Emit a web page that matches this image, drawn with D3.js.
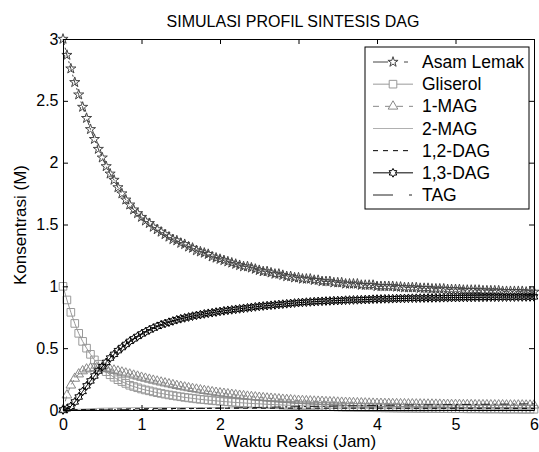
<!DOCTYPE html>
<html>
<head>
<meta charset="utf-8">
<script src="https://cdn.jsdelivr.net/npm/d3@7"></script>
<style>
  body { margin: 0; background: #fff; }
  text { font-family: Arial, "Liberation Sans", sans-serif; }
</style>
</head>
<body>
<svg id="chart"></svg>
<script>
var width = 539;
var height = 452;

// grid waktu simulasi (jam), langkah 0.05
var langkah = 0.05;
var waktu = d3.range(121).map(function(i) { return i * langkah; });

// nilai, tiap 0.05 jam
var asamLemak = [3.00,2.87,2.76,2.65,2.55,2.45,2.36,2.27,2.19,2.11,
  2.04,1.97,1.91,1.86,1.80,1.75,1.70,1.66,1.62,1.59,
  1.56,1.53,1.51,1.48,1.46,1.44,1.42,1.40,1.38,1.37,
  1.35,1.34,1.32,1.31,1.29,1.28,1.27,1.26,1.24,1.23,
  1.22,1.21,1.20,1.19,1.18,1.17,1.16,1.16,1.15,1.14,
  1.13,1.12,1.12,1.11,1.10,1.10,1.09,1.08,1.08,1.07,
  1.07,1.06,1.06,1.06,1.05,1.05,1.04,1.04,1.04,1.03,
  1.03,1.03,1.02,1.02,1.02,1.02,1.01,1.01,1.01,1.01,
  1.00,1.00,1.00,1.00,1.00,0.995,0.995,0.99,0.99,0.99,
  0.99,0.985,0.985,0.985,0.98,0.98,0.98,0.98,0.975,0.975,
  0.975,0.975,0.97,0.97,0.97,0.97,0.97,0.965,0.965,0.965,
  0.965,0.965,0.96,0.96,0.96,0.96,0.96,0.96,0.955,0.955,
  0.955];

var gliserol = [1.00,0.89,0.79,0.70,0.62,0.555,0.50,0.45,0.405,0.37,
  0.34,0.31,0.285,0.265,0.245,0.23,0.215,0.20,0.19,0.18,
  0.17,0.162,0.155,0.147,0.14,0.134,0.128,0.122,0.117,0.112,
  0.107,0.102,0.098,0.094,0.09,0.086,0.083,0.080,0.077,0.074,
  0.071,0.068,0.066,0.063,0.061,0.059,0.057,0.055,0.053,0.051,
  0.05,0.048,0.046,0.045,0.043,0.042,0.04,0.039,0.038,0.036,
  0.035,0.034,0.033,0.032,0.031,0.030,0.029,0.028,0.027,0.026,
  0.025,0.024,0.023,0.023,0.022,0.021,0.021,0.02,0.019,0.019,
  0.018,0.018,0.017,0.017,0.016,0.016,0.015,0.015,0.014,0.014,
  0.013,0.013,0.013,0.012,0.012,0.012,0.011,0.011,0.011,0.010,
  0.010,0.010,0.010,0.009,0.009,0.009,0.009,0.008,0.008,0.008,
  0.008,0.008,0.007,0.007,0.007,0.007,0.007,0.006,0.006,0.006,
  0.006];

var mag1 = [0,0.12,0.20,0.255,0.29,0.315,0.33,0.337,0.34,0.34,
  0.338,0.334,0.328,0.321,0.313,0.305,0.297,0.289,0.28,0.272,
  0.263,0.255,0.247,0.239,0.232,0.224,0.217,0.21,0.203,0.196,
  0.19,0.184,0.178,0.172,0.167,0.161,0.156,0.151,0.146,0.141,
  0.137,0.133,0.129,0.125,0.121,0.117,0.114,0.11,0.107,0.104,
  0.101,0.098,0.095,0.093,0.090,0.088,0.085,0.083,0.081,0.078,
  0.076,0.075,0.073,0.072,0.070,0.069,0.068,0.066,0.065,0.064,
  0.062,0.061,0.060,0.059,0.058,0.057,0.056,0.055,0.054,0.053,
  0.052,0.052,0.051,0.051,0.050,0.050,0.049,0.049,0.048,0.048,
  0.047,0.047,0.046,0.046,0.046,0.045,0.045,0.044,0.044,0.043,
  0.043,0.043,0.042,0.042,0.042,0.041,0.041,0.041,0.041,0.040,
  0.040,0.040,0.040,0.039,0.039,0.039,0.039,0.039,0.038,0.038,
  0.038];

var dag13 = [0,0.01,0.03,0.065,0.105,0.15,0.195,0.235,0.275,0.315,
  0.35,0.385,0.42,0.45,0.48,0.505,0.53,0.555,0.575,0.595,
  0.615,0.632,0.648,0.663,0.677,0.69,0.70,0.71,0.72,0.73,
  0.738,0.745,0.752,0.759,0.765,0.771,0.777,0.782,0.787,0.792,
  0.797,0.802,0.806,0.81,0.814,0.818,0.822,0.826,0.830,0.834,
  0.838,0.841,0.844,0.847,0.850,0.853,0.856,0.859,0.862,0.865,
  0.868,0.870,0.872,0.874,0.876,0.878,0.879,0.881,0.882,0.884,
  0.885,0.886,0.888,0.889,0.890,0.891,0.892,0.893,0.894,0.896,
  0.897,0.898,0.899,0.899,0.900,0.901,0.902,0.902,0.903,0.904,
  0.904,0.905,0.905,0.906,0.906,0.907,0.907,0.908,0.908,0.909,
  0.909,0.909,0.910,0.910,0.910,0.911,0.911,0.911,0.912,0.912,
  0.912,0.912,0.913,0.913,0.913,0.913,0.914,0.914,0.914,0.914,
  0.915];

// seri tanpa marker, tiap 0.5 jam
var waktuGaris = [0,0.5,1,1.5,2,2.5,3,3.5,4,4.5,5,5.5,6];
var mag2 = [0,0.015,0.02,0.02,0.018,0.016,0.014,0.012,0.011,0.01,0.009,0.008,0.008];
var dag12 = [0,0.006,0.01,0.012,0.014,0.015,0.015,0.015,0.015,0.014,0.014,0.014,0.013];
var tag = [0,0.001,0.004,0.009,0.015,0.021,0.027,0.032,0.037,0.041,0.044,0.047,0.05];

var xTicks = [0,1,2,3,4,5,6];
var yTicks = [0,0.5,1,1.5,2,2.5,3];

// hexagram ala MATLAB
var symbolHexagram = {
  draw: function(ctx, size) {
    var r = Math.sqrt(size) * 0.62;
    var ri = r / Math.sqrt(3);
    for (var k = 0; k < 12; k++) {
      var a = -Math.PI / 2 + k * Math.PI / 6;
      var rr = (k % 2 === 0) ? r : ri;
      if (k === 0) ctx.moveTo(rr * Math.cos(a), rr * Math.sin(a));
      else ctx.lineTo(rr * Math.cos(a), rr * Math.sin(a));
    }
    ctx.closePath();
  }
};

var seri = [
  {nama: "Asam Lemak", t: waktu, v: asamLemak, warna: "#444", dash: "6,3,2,3", marker: d3.symbolStar, ukuran: 32, legDash: "15,16,4,5"},
  {nama: "Gliserol", t: waktu, v: gliserol, warna: "#999", dash: null, marker: d3.symbolSquare, ukuran: 58, legDash: null},
  {nama: "1-MAG", t: waktu, v: mag1, warna: "#888", dash: "5,4", marker: d3.symbolTriangle, ukuran: 40, legDash: "6,6"},
  {nama: "2-MAG", t: waktuGaris, v: mag2, warna: "#b0b0b0", dash: null, marker: null, legDash: null},
  {nama: "1,2-DAG", t: waktuGaris, v: dag12, warna: "#000", dash: "5,4", marker: null, legDash: "5,5"},
  {nama: "1,3-DAG", t: waktu, v: dag13, warna: "#000", dash: null, marker: symbolHexagram, ukuran: 50, legDash: null},
  {nama: "TAG", t: waktuGaris, v: tag, warna: "#222", dash: "9,4,2,4", marker: null, legDash: "20,16,3,5"}
];

var x = d3.scaleLinear().domain([0, 6]).range([63, 534]);
var y = d3.scaleLinear().domain([0, 3]).range([410, 39]);

var svg = d3.select("#chart")
  .attr("width", width)
  .attr("height", height);

svg.append("rect").attr("width", width).attr("height", height).attr("fill", "#fff");

// title
svg.append("text")
  .attr("x", 293)
  .attr("y", 27)
  .attr("text-anchor", "middle")
  .style("font-size", "16px")
  .text("SIMULASI PROFIL SINTESIS DAG");

// garis dan marker
var line = d3.line()
  .x(function(d) { return x(d[0]); })
  .y(function(d) { return y(d[1]); });

seri.forEach(function(s) {
  var pts = s.t.map(function(t, i) { return [t, s.v[i]]; });
  svg.append("path")
    .datum(pts)
    .attr("d", line)
    .attr("fill", "none")
    .attr("stroke", s.warna)
    .attr("stroke-width", 1)
    .attr("stroke-dasharray", s.dash);

  if (s.marker) {
    var sym = d3.symbol().type(s.marker).size(s.ukuran);
    svg.append("g").selectAll("path")
      .data(pts)
      .enter().append("path")
      .attr("d", sym)
      .attr("transform", function(d) { return "translate(" + x(d[0]) + "," + y(d[1]) + ")"; })
      .attr("fill", "none")
      .attr("stroke", s.warna)
      .attr("stroke-width", 1);
  }
});

// axes, ticks inward like MATLAB
var gx = svg.append("g").attr("transform", "translate(0,410)")
  .call(d3.axisBottom(x).tickValues(xTicks).tickFormat(String).tickSizeInner(-5).tickSizeOuter(0).tickPadding(8.5));
var gy = svg.append("g").attr("transform", "translate(63,0)")
  .call(d3.axisLeft(y).tickValues(yTicks).tickFormat(String).tickSizeInner(-5).tickSizeOuter(0).tickPadding(4.5));
var gt = svg.append("g").attr("transform", "translate(0,39)")
  .call(d3.axisTop(x).tickValues(xTicks).tickFormat("").tickSizeInner(-5).tickSizeOuter(0));
var gr = svg.append("g").attr("transform", "translate(534,0)")
  .call(d3.axisRight(y).tickValues(yTicks).tickFormat("").tickSizeInner(-5).tickSizeOuter(0));

[gx, gy, gt, gr].forEach(function(g) {
  g.selectAll("text").style("font-size", "16px").attr("fill", "#000").style("font-family", "Arial, 'Liberation Sans', sans-serif");
  g.selectAll("line").attr("stroke", "#000");
  g.select(".domain").attr("stroke", "#000");
});

// axis labels
svg.append("text")
  .attr("x", 300)
  .attr("y", 447)
  .attr("text-anchor", "middle")
  .style("font-size", "17px")
  .text("Waktu Reaksi (Jam)");

svg.append("text")
  .attr("transform", "translate(26,225) rotate(-90)")
  .attr("text-anchor", "middle")
  .style("font-size", "17px")
  .text("Konsentrasi (M)");

// legend
var leg = svg.append("g");
leg.append("rect")
  .attr("x", 365).attr("y", 47)
  .attr("width", 164).attr("height", 162)
  .attr("fill", "#fff")
  .attr("stroke", "#000")
  .attr("stroke-width", 1);

var rowY = d3.scalePoint().domain(seri.map(function(s) { return s.nama; })).range([62, 195]);

seri.forEach(function(s) {
  var cy = rowY(s.nama);
  leg.append("line")
    .attr("x1", 373).attr("x2", 413)
    .attr("y1", cy).attr("y2", cy)
    .attr("stroke", s.warna)
    .attr("stroke-width", 1)
    .attr("stroke-dasharray", s.legDash);
  if (s.marker) {
    leg.append("path")
      .attr("d", d3.symbol().type(s.marker).size(s.ukuran))
      .attr("transform", "translate(393," + cy + ")")
      .attr("fill", "#fff")
      .attr("stroke", s.warna);
  }
  leg.append("text")
    .attr("x", 422)
    .attr("y", cy + 6)
    .style("font-size", "17.5px")
    .text(s.nama);
});
</script>
</body>
</html>
